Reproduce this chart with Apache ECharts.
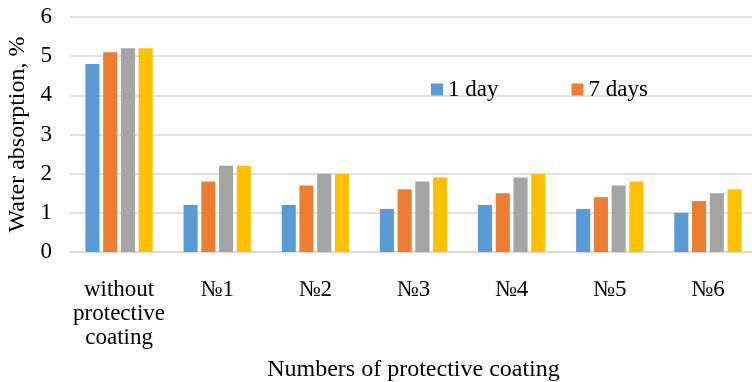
<!DOCTYPE html>
<html><head><meta charset="utf-8">
<script src="https://cdn.jsdelivr.net/npm/echarts@6/dist/echarts.min.js"></script>
<style>html,body{margin:0;padding:0;background:#fff}#c{width:752px;height:382px}</style>
</head><body><div id="c"></div>
<script>
const categories = ['without\nprotective\ncoating', '№1', '№2', '№3', '№4', '№5', '№6'];
const seriesNames = ['1 day', '7 days', '14 days', '28 days'];
const day1 = [4.8, 1.2, 1.2, 1.1, 1.2, 1.1, 1.0];
const day7 = [5.1, 1.8, 1.7, 1.6, 1.5, 1.4, 1.3];
const day14 = [5.2, 2.2, 2.0, 1.8, 1.9, 1.7, 1.5];
const day28 = [5.2, 2.2, 2.0, 1.9, 2.0, 1.8, 1.6];
const yTicks = [0, 1, 2, 3, 4, 5, 6];
const colors = ['#5b9bd5', '#ed7d31', '#a5a5a5', '#ffc000'];
const font = 'Liberation Serif, Times New Roman, serif';

const chart = echarts.init(document.getElementById('c'), null, {renderer: 'canvas'});
const data = [day1, day7, day14, day28];
chart.setOption({
  animation: false,
  color: colors,
  textStyle: {fontFamily: font},
  grid: {left: 70, right: -5, top: 17, bottom: 130, outerBoundsMode: 'none', containLabel: false},
  legend: {
    data: [seriesNames[0], seriesNames[1]],
    left: 426, top: 73, itemWidth: 12, itemHeight: 12, itemGap: 73,
    icon: 'rect',
    textStyle: {fontFamily: font, fontSize: 23, color: '#000'}
  },
  xAxis: {
    type: 'category', data: categories,
    axisTick: {show: false},
    axisLine: {lineStyle: {color: '#d9d9d9', width: 1.5}},
    axisLabel: {fontFamily: font, fontSize: 23, color: '#000', lineHeight: 24, margin: 26, interval: 0},
    name: 'Numbers of protective coating', nameLocation: 'middle', nameGap: 106,
    nameTextStyle: {fontFamily: font, fontSize: 24, color: '#000'}
  },
  yAxis: {
    type: 'value', min: yTicks[0], max: yTicks[yTicks.length - 1], interval: 1,
    axisLine: {show: false}, axisTick: {show: false},
    splitLine: {lineStyle: {color: '#d9d9d9', width: 1.5}},
    axisLabel: {fontFamily: font, fontSize: 23, color: '#000', margin: 18},
    name: 'Water absorption, %', nameLocation: 'middle', nameGap: 30, nameRotate: 90,
    nameTextStyle: {fontFamily: font, fontSize: 24, color: '#000'}
  },
  series: data.map((d, i) => ({
    name: seriesNames[i], type: 'bar', data: d,
    barGap: '26%', barCategoryGap: '31.4%'
  }))
});
</script></body></html>
